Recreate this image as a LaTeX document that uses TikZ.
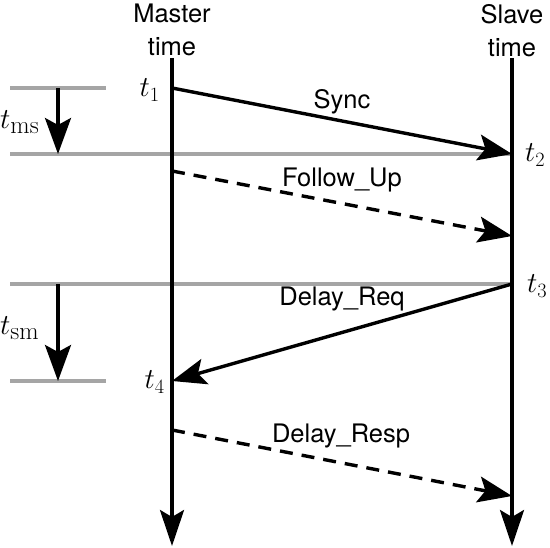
\RequirePackage{fix-cm}
\documentclass[tikz,border=0pt]{standalone}
\usepackage{fontspec}
\setsansfont{TeX Gyre Heros}
\usetikzlibrary{arrows.meta}
\newcommand{\bigsub}[1]{\hbox{\fontsize{25}{25}\selectfont #1}}
\begin{document}
\begin{tikzpicture}[x=1pt,y=-1pt,
  timeline/.style={line width=3.4pt,-{Stealth[length=36pt,width=24pt,inset=7pt]}},
  msg/.style={line width=3.4pt,-{Stealth[length=34pt,width=26pt,inset=7pt]}},
  dmsg/.style={msg,dash pattern=on 13pt off 9pt},
  guide/.style={line width=3.2pt,draw={rgb,255:red,165;green,165;blue,165}},
  span/.style={line width=3.4pt,-{Stealth[length=36pt,width=26pt,inset=7pt]}},
  sflabel/.style={font=\sffamily\fontsize{25.5}{33}\selectfont,inner sep=0pt},
  mlabel/.style={font=\fontsize{29}{32}\selectfont,inner sep=0pt}]
\useasboundingbox (0,0) rectangle (550,548);
% coordinates
\coordinate (mtop) at (172,58);
\coordinate (mbot) at (172,546);
\coordinate (stop) at (512,58);
\coordinate (sbot) at (512,546);
\coordinate (m1) at (172,88);
\coordinate (s2) at (512,154);
\coordinate (m2) at (172,171);
\coordinate (s3) at (512,236);
\coordinate (s4) at (512,284);
\coordinate (m4) at (172,381);
\coordinate (m5) at (172,430);
\coordinate (s6) at (512,496);
\coordinate (g1a) at (10,88);
\coordinate (g1b) at (106,88);
\coordinate (g2a) at (10,154);
\coordinate (g3a) at (10,284);
\coordinate (g4a) at (10,381);
\coordinate (g4b) at (106,381);
\coordinate (a1s) at (58,88);
\coordinate (a1e) at (58,154);
\coordinate (a2s) at (58,284);
\coordinate (a2e) at (58,381);
% guide lines
\draw[guide] (g1a) -- (g1b);
\draw[guide] (g2a) -- (s2);
\draw[guide] (g3a) -- (s4);
\draw[guide] (g4a) -- (g4b);
% time lines
\draw[timeline] (mtop) -- (mbot);
\draw[timeline] (stop) -- (sbot);
% interval arrows
\draw[span] (a1s) -- (a1e);
\draw[span] (a2s) -- (a2e);
% messages
\draw[msg] (m1) -- (s2);
\draw[dmsg] (m2) -- (s3);
\draw[msg] (s4) -- (m4);
\draw[dmsg] (m5) -- (s6);
% labels
\node[sflabel,align=center,anchor=north] (master) at (172,4) {Master\\time};
\node[sflabel,align=center,anchor=north] (slave) at (512,4) {Slave\\time};
\node[sflabel,anchor=base] (sync) at (342,109) {Sync};
\node[sflabel,anchor=base] (fu) at (342,187) {Follow\_Up};
\node[sflabel,anchor=base] (dreq) at (342,306) {Delay\_Req};
\node[sflabel,anchor=base] (dresp) at (341,443) {Delay\_Resp};
\node[mlabel,anchor=base east] (t1) at (160,97) {$t_1$};
\node[mlabel,anchor=base west] (t2) at (525,162) {$t_2$};
\node[mlabel,anchor=base west] (t3) at (527,293) {$t_3$};
\node[mlabel,anchor=base east] (t4) at (165,389) {$t_4$};
\node[mlabel,anchor=base west] (tms) at (0,129) {$t_{\bigsub{ms}}$};
\node[mlabel,anchor=base west] (tsm) at (0,335) {$t_{\bigsub{sm}}$};
\end{tikzpicture}
\end{document}
